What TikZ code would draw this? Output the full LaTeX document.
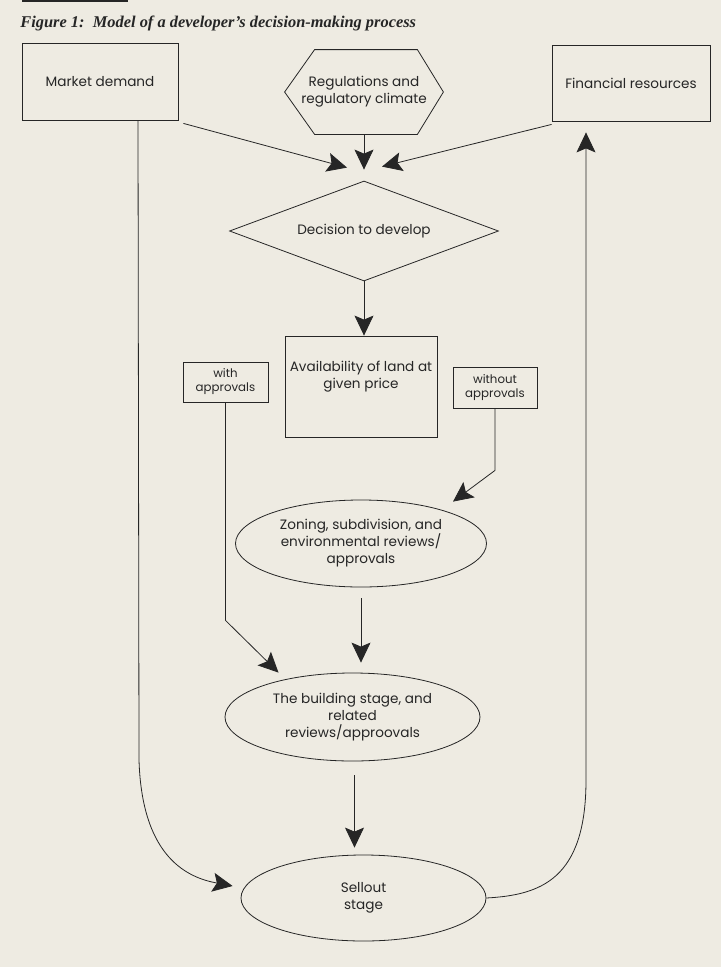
\documentclass[tikz,border=0pt]{standalone}
\usepackage{fontspec}
\setmainfont{Poppins}
\newfontfamily\titlefont{Liberation Serif}
\usetikzlibrary{shapes.geometric,arrows.meta,calc}
\definecolor{paper}{RGB}{238,235,226}

\begin{document}
\begin{tikzpicture}[x=1pt,y=-1pt,line width=0.8pt,color=black!85,
  every node/.style={align=center,font=\fontsize{13.6}{17}\selectfont},
  box/.style={draw,rectangle,inner sep=0pt},
  small/.style={font=\fontsize{11.8}{14}\selectfont},
  oval/.style={draw,ellipse,inner sep=0pt},
  arr/.style={-{Stealth[length=20pt,width=19pt,inset=4pt]}}]
  \fill[paper] (0,0) rectangle (721,967);
  \useasboundingbox (0,0) rectangle (721,967);
  \draw[line width=2pt] (22,1) -- (128,1);
  \node[anchor=base west,inner sep=0pt,font=\titlefont\bfseries\itshape\fontsize{16.4}{18}\selectfont] (title) at (20,27) {Figure 1:\ \ Model of a developer’s decision-making process};

  % inputs
  \node[box,minimum width=156pt,minimum height=77pt] (market) at (100,81.5) {Market demand};
  \node[box,minimum width=158pt,minimum height=76pt] (finance) at (631,83) {Financial resources};
  \node[minimum width=158pt,minimum height=84pt] (regs) at (364,92) {Regulations and\\regulatory climate};
  \draw ([xshift=30pt]regs.north west) -- ([xshift=-26pt]regs.north east) -- (regs.east) -- ([xshift=-26pt]regs.south east) -- ([xshift=30pt]regs.south west) -- (regs.west) -- cycle;

  \node[draw,diamond,aspect=2.7,inner sep=0pt,minimum width=269pt,minimum height=100pt] (decide) at (364,231) {Decision to develop};
  \node[box,minimum width=152pt,minimum height=101pt,label={[name=availtext,yshift=10pt]center:{Availability of land at\\given price}}] (avail) at (361,386.5) {};
  \node[box,small,minimum width=85pt,minimum height=40pt] (with) at (225.5,382) {with\\approvals};
  \node[box,small,minimum width=84pt,minimum height=41pt] (without) at (495,387.5) {without\\approvals};

  % stages
  \node[oval,minimum width=251pt,minimum height=87pt] (zoning) at (361,543.5) {Zoning, subdivision, and\\environmental reviews/\\approvals};
  \node[oval,minimum width=255pt,minimum height=88pt] (build) at (352.5,717) {The building stage, and\\related\\reviews/approovals};
  \node[oval,minimum width=245pt,minimum height=86pt] (sellout) at (363.5,898) {Sellout\\stage};

  \draw[arr] ([xshift=5pt,yshift=-3pt]market.south east) -- ([xshift=-17pt,yshift=13pt]decide.north);
  \draw[arr] (regs.south) -- ([yshift=11pt]decide.north);
  \draw[arr] ([yshift=-3pt]finance.south west) -- ([xshift=18pt,yshift=14pt]decide.north);
  \draw[arr] (decide.south) -- (decide.south |- avail.north);
  \draw[arr] (without.south) -- ++(0,62) -- ([xshift=92pt,yshift=-2pt]zoning.north);
  \draw[arr] (with.south) -- ++(0,218) -- ([xshift=-74pt]build.north);
  \draw[arr] ($(zoning.south)+(0,11)$) -- ($(zoning.south |- build.north)+(0,-10)$);
  \draw[arr] ($(build.south)+(2,14)$) -- ($(build.south |- sellout.north)+(2,-7)$);
  \draw[arr] ([xshift=38pt]market.south) -- (139,760) .. controls (142,860) and (190,878) .. ([xshift=-8pt,yshift=12pt]sellout.west);
  \draw[arr] (sellout.east) .. controls (540,895) and (586,880) .. (586,780) -- ([xshift=-45pt,yshift=-11pt]finance.south);
\end{tikzpicture}
\end{document}
